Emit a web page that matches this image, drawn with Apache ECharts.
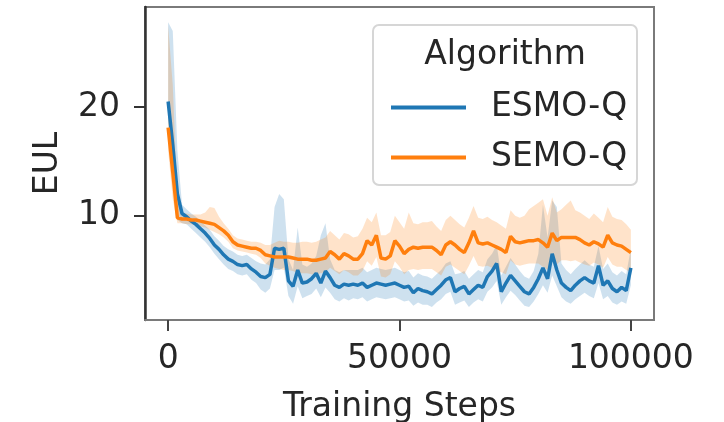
<!DOCTYPE html>
<html>
<head>
<meta charset="utf-8">
<style>html,body{margin:0;padding:0;background:#fff}#c{width:724px;height:422px}</style>
<script src="https://cdn.jsdelivr.net/npm/echarts@6/dist/echarts.min.js"></script>
</head>
<body>
<div id="c"></div>
<script>
// Training steps (one point every 1000 steps)
const steps = [0,1000,2000,3000,4000,5000,6000,7000,8000,9000,10000,11000,12000,13000,14000,15000,16000,17000,18000,19000,20000,21000,22000,23000,24000,25000,26000,27000,28000,29000,30000,31000,32000,33000,34000,35000,36000,37000,38000,39000,40000,41000,42000,43000,44000,45000,46000,47000,48000,49000,50000,51000,52000,53000,54000,55000,56000,57000,58000,59000,60000,61000,62000,63000,64000,65000,66000,67000,68000,69000,70000,71000,72000,73000,74000,75000,76000,77000,78000,79000,80000,81000,82000,83000,84000,85000,86000,87000,88000,89000,90000,91000,92000,93000,94000,95000,96000,97000,98000,99000,100000];

const esmoMean = [20.5,16.5,12.0,10.2,9.9,9.5,9.2,8.8,8.4,7.9,7.3,6.9,6.4,6.0,5.8,5.5,5.4,5.5,5.1,4.8,4.4,4.3,4.6,7.0,6.9,7.0,4.0,3.5,5.0,3.8,3.9,4.2,4.7,3.8,4.9,4.3,3.6,3.4,3.7,3.6,3.7,3.6,3.8,3.4,3.6,3.8,3.7,3.6,3.7,3.8,3.6,3.4,3.5,2.9,3.3,3.1,3.0,2.8,3.2,3.6,4.1,4.3,3.0,3.3,3.5,2.8,3.2,3.6,3.4,4.4,4.9,5.6,3.0,3.8,4.5,4.0,3.5,3.0,2.8,3.4,4.2,5.2,4.2,6.5,5.0,3.8,3.4,3.1,3.6,4.0,4.3,4.0,3.8,5.4,3.6,4.0,3.3,3.0,3.4,3.1,5.2];
const esmoLow = [18.5,13.5,9.6,9.3,9.2,8.8,8.4,8.0,7.6,7.1,6.5,6.0,5.5,5.1,4.9,4.6,4.5,4.6,4.1,3.8,3.2,2.9,3.3,5.0,5.0,5.2,2.6,1.9,3.5,2.4,2.6,2.8,3.3,2.5,3.4,2.9,2.3,2.1,2.4,2.2,2.4,2.3,2.5,2.1,2.3,2.5,2.4,2.3,2.4,2.5,2.3,2.1,2.2,1.7,2.0,1.8,1.8,1.6,2.0,2.3,2.8,3.0,1.8,2.0,2.2,1.6,2.0,2.3,2.1,3.0,3.4,4.0,1.8,2.5,3.1,2.7,2.2,1.7,1.6,2.1,2.8,3.6,2.9,4.5,3.5,2.5,2.1,1.9,2.3,2.6,2.9,2.6,2.4,3.8,2.3,2.6,2.0,1.8,2.1,1.9,3.6];
const esmoHigh = [27.8,27.0,16.0,11.0,10.6,10.2,9.9,9.5,9.1,8.7,8.1,7.7,7.2,6.9,6.7,6.4,6.3,6.4,6.1,5.8,5.6,5.5,6.0,10.8,12.0,11.5,6.0,5.0,8.9,5.5,5.3,5.6,6.3,8.2,9.3,6.0,5.0,4.8,5.0,5.0,5.0,5.0,5.2,4.8,5.0,5.2,5.1,5.0,5.1,5.2,5.0,4.8,4.9,4.3,4.7,4.5,4.4,4.2,4.6,5.0,5.6,5.8,4.6,4.7,4.9,4.2,4.6,5.0,4.8,6.0,6.5,7.3,4.5,5.3,6.1,5.5,4.9,4.4,4.2,4.9,6.5,11.0,8.0,11.4,10.8,5.6,5.0,4.6,5.1,5.5,5.9,5.5,5.3,7.2,5.1,5.6,4.8,4.5,4.9,4.6,7.0];

const semoMean = [18.1,14.0,9.8,9.7,9.7,9.6,9.6,9.5,9.4,9.3,9.2,8.9,8.6,8.2,7.6,7.3,7.2,7.1,7.0,7.0,6.8,6.4,6.3,6.2,6.2,6.2,6.2,6.1,6.0,6.0,6.0,5.9,5.9,6.0,6.1,6.7,6.4,6.0,6.5,6.3,6.0,6.0,6.5,7.7,7.3,8.2,6.1,6.0,6.3,7.7,7.2,6.5,6.9,7.1,7.0,7.1,7.1,7.1,6.8,6.4,7.3,7.6,7.3,6.9,6.6,7.5,8.6,7.5,7.4,7.5,7.3,7.1,6.9,6.6,8.1,7.6,7.5,7.6,7.7,7.7,7.8,7.5,7.1,8.4,7.7,8.0,8.0,8.0,8.0,7.8,7.5,7.3,7.6,7.4,7.1,8.2,7.5,7.3,7.2,6.9,6.6];
const semoLow = [16.0,11.5,9.3,9.3,9.2,9.2,9.1,9.0,8.9,8.7,8.5,8.3,8.0,7.6,7.0,6.8,6.7,6.6,6.5,6.4,6.1,5.6,5.4,5.2,5.1,5.0,5.0,4.9,4.7,4.7,4.7,4.6,4.6,4.7,4.8,5.2,4.9,4.6,5.0,4.8,4.5,4.5,4.9,5.8,5.4,6.2,4.4,4.3,4.6,5.8,5.3,4.6,5.0,5.1,5.0,5.1,5.1,5.1,4.8,4.5,5.3,5.5,5.2,4.9,4.6,5.4,6.3,5.4,5.3,5.4,5.2,5.0,4.8,4.6,5.9,5.5,5.4,5.5,5.6,5.6,5.6,5.3,5.0,6.1,5.5,5.9,5.9,5.8,5.9,5.7,5.5,5.4,5.7,5.5,5.2,6.2,5.5,5.3,5.3,5.0,4.8];
const semoHigh = [27.5,22.0,11.5,10.2,10.2,10.1,10.1,10.1,10.3,10.8,10.7,9.9,9.3,8.8,8.2,7.9,7.8,7.7,7.6,7.6,7.5,7.3,7.3,7.5,7.7,7.6,7.6,7.5,7.5,7.6,7.6,7.5,7.6,7.8,8.0,8.6,8.2,7.8,8.4,8.3,8.0,8.1,8.8,9.8,9.4,10.3,8.2,8.2,8.5,10.0,9.4,8.8,10.3,9.3,9.2,9.4,9.4,9.5,9.0,8.6,9.6,10.0,9.6,9.2,8.9,9.8,10.9,9.8,9.7,9.9,9.6,9.4,9.1,8.8,10.5,10.0,9.8,10.0,10.6,10.9,11.2,11.5,10.0,11.7,10.3,10.6,11.0,11.4,10.5,10.3,10.0,9.7,10.2,9.8,9.4,10.8,9.9,9.7,9.6,9.2,8.7];

const seriesNames = ['ESMO-Q', 'SEMO-Q'];
const xTicks = [0, 50000, 100000];
const yTicks = [10, 20];

const BLUE = '#1f77b4', ORANGE = '#ff7f0e';
const FONT = 'DejaVu Sans';
const TXT = '#262626';

function bandSeries(low, high, fill) {
  return {
    type: 'custom',
    silent: true,
    z: 1,
    clip: true,
    data: steps.map((s, i) => [s, low[i], high[i]]),
    encode: { x: 0, y: [1, 2] },
    renderItem: function (params, api) {
      if (params.dataIndex !== 0) return null;
      const pts = [];
      for (let i = 0; i < steps.length; i++) pts.push(api.coord([steps[i], high[i]]));
      for (let i = steps.length - 1; i >= 0; i--) pts.push(api.coord([steps[i], low[i]]));
      return { type: 'polygon', shape: { points: pts }, style: { fill: fill, stroke: null } };
    }
  };
}

const chart = echarts.init(document.getElementById('c'), null, { renderer: 'canvas' });
chart.setOption({
  animation: false,
  backgroundColor: '#fff',
  grid: { left: 145, right: 70, top: 7, bottom: 102, show: true, borderColor: '#7a7a7a', borderWidth: 2, containLabel: false, outerBoundsMode: 'none' },
  xAxis: {
    type: 'value', min: -5000, max: 105000,
    name: 'Training Steps', nameLocation: 'middle', nameGap: 71,
    nameTextStyle: { fontFamily: FONT, fontSize: 33, color: TXT },
    axisLine: { show: true, onZero: false, lineStyle: { color: '#7a7a7a', width: 2 } },
    axisTick: { show: true, length: 11, lineStyle: { color: '#444', width: 2 }, customValues: xTicks },
    axisLabel: { margin: 23, fontFamily: FONT, fontSize: 33, color: TXT, customValues: xTicks, formatter: v => String(v) },
    splitLine: { show: false }
  },
  yAxis: {
    type: 'value', min: 0.4, max: 29.2,
    name: 'EUL', nameLocation: 'middle', nameGap: 80,
    nameTextStyle: { fontFamily: FONT, fontSize: 33, color: TXT },
    axisLine: { show: true, onZero: false, lineStyle: { color: '#333', width: 2.5 } },
    axisTick: { show: true, length: 11, lineStyle: { color: '#333', width: 2 }, customValues: yTicks },
    axisLabel: { margin: 25, fontFamily: FONT, fontSize: 33, color: TXT, customValues: yTicks, formatter: v => String(v) },
    splitLine: { show: false }
  },
  legend: {
    data: seriesNames,
    orient: 'vertical',
    left: 386, top: 86,
    icon: 'rect', itemWidth: 75, itemHeight: 4, itemGap: 17,
    textStyle: { fontFamily: FONT, fontSize: 33, color: TXT, padding: [0, 0, 0, 20], lineHeight: 33 },
    z: 10
  },
  graphic: [
    { type: 'rect', z: 5, shape: { x: 373, y: 25, width: 264, height: 160, r: 6 }, style: { fill: 'rgba(255,255,255,0.85)', stroke: '#d6d6d6', lineWidth: 2 } },
    { type: 'text', z: 6, style: { x: 505, y: 55, text: 'Algorithm', fontFamily: FONT, fontSize: 33, fill: TXT, align: 'center', verticalAlign: 'middle' } }
  ],
  series: [
    bandSeries(esmoLow, esmoHigh, 'rgba(31,119,180,0.22)'),
    bandSeries(semoLow, semoHigh, 'rgba(255,127,14,0.22)'),
    { name: 'ESMO-Q', type: 'line', z: 3, showSymbol: false, color: BLUE, lineStyle: { color: BLUE, width: 3.5 }, data: steps.map((s, i) => [s, esmoMean[i]]) },
    { name: 'SEMO-Q', type: 'line', z: 4, showSymbol: false, color: ORANGE, lineStyle: { color: ORANGE, width: 3.5 }, data: steps.map((s, i) => [s, semoMean[i]]) }
  ]
});
</script>
</body>
</html>
